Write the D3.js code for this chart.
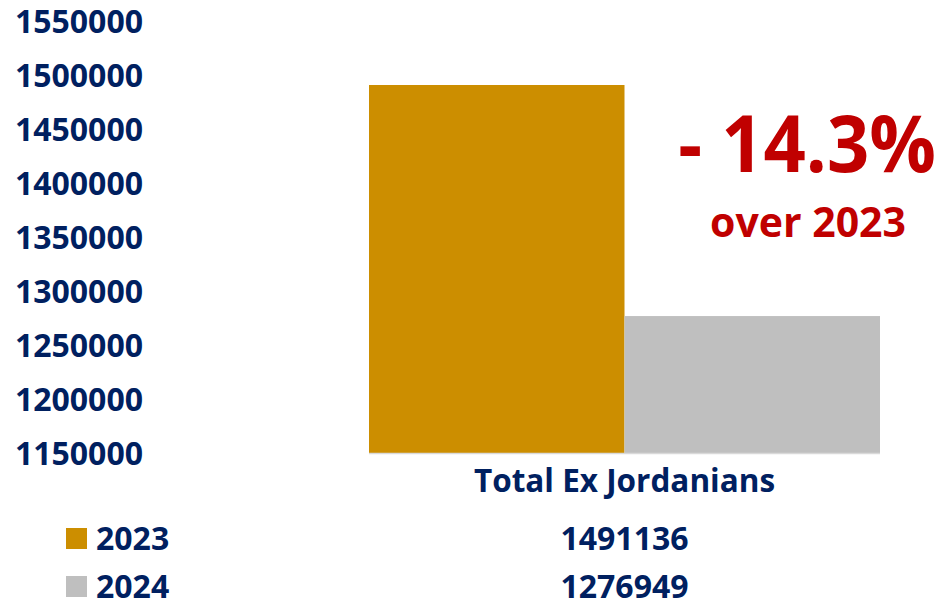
<!DOCTYPE html>
<html>
<head>
<meta charset="utf-8">
<script src="https://cdn.jsdelivr.net/npm/d3@7"></script>
<style>
  body { margin: 0; background: #fff; }
  svg text { font-family: "Open Sans", sans-serif; font-weight: 700; }
</style>
</head>
<body>
<div id="chart"></div>
<script>
// chart data
var categories = ["Total Ex Jordanians"];
var years = ["2023", "2024"];
var values2023 = [1491136];
var values2024 = [1276949];
var yTicks = [1150000, 1200000, 1250000, 1300000, 1350000, 1400000, 1450000, 1500000, 1550000];
var changeLabel = "- 14.3%";
var changeSub = "over 2023";

var width = 942, height = 608;
var navy = "#002060", red = "#C00000";
var colors = { "2023": "#CC8E00", "2024": "#BFBFBF" };

var svg = d3.select("#chart").append("svg")
  .attr("width", width)
  .attr("height", height);

var y = d3.scaleLinear()
  .domain([1150000, 1550000])
  .range([453, 21.5]);

var x0 = d3.scaleBand().domain(categories).range([369, 880]).padding(0);
var x1 = d3.scaleBand().domain(years).range([0, x0.bandwidth()]).padding(0);

var rows = categories.map(function(c, i) {
  return { cat: c, vals: [ { year: "2023", v: values2023[i] }, { year: "2024", v: values2024[i] } ] };
});

// y axis, labels only
var yAxis = svg.append("g")
  .attr("transform", "translate(151,0)")
  .call(d3.axisLeft(y).tickValues(yTicks).tickSize(0).tickPadding(8).tickFormat(d3.format("d")));
yAxis.select(".domain").remove();
yAxis.selectAll("text")
  .attr("dy", "0.357em")
  .style("font-family", "'Open Sans', sans-serif")
  .style("font-weight", 700)
  .style("font-size", "32px")
  .attr("fill", navy);

// bars
var groups = svg.selectAll(".cat")
  .data(rows)
  .enter().append("g")
  .attr("class", "cat")
  .attr("transform", function(d) { return "translate(" + x0(d.cat) + ",0)"; });

groups.selectAll("rect")
  .data(function(d) { return d.vals; })
  .enter().append("rect")
  .attr("x", function(d) { return x1(d.year); })
  .attr("y", function(d) { return y(d.v); })
  .attr("width", x1.bandwidth())
  .attr("height", function(d) { return y.range()[0] - y(d.v); })
  .attr("fill", function(d) { return colors[d.year]; });

// baseline
svg.append("line")
  .attr("x1", x0.range()[0]).attr("x2", x0.range()[1])
  .attr("y1", y(1150000) + 0.5).attr("y2", y(1150000) + 0.5)
  .attr("stroke", "#D9D9D9").attr("stroke-width", 1.5);

// category label
svg.selectAll(".catlabel")
  .data(categories)
  .enter().append("text")
  .attr("x", function(d) { return x0(d) + x0.bandwidth() / 2; })
  .attr("y", 492)
  .attr("text-anchor", "middle")
  .attr("font-size", 31.5)
  .attr("fill", navy)
  .text(function(d) { return d; });

// data table with legend keys
var table = [
  { year: "2023", vals: values2023, base: 550 },
  { year: "2024", vals: values2024, base: 598 }
];

table.forEach(function(r) {
  svg.append("rect")
    .attr("x", 66).attr("y", r.base - 22)
    .attr("width", 21).attr("height", 21)
    .attr("fill", colors[r.year]);
  svg.append("text")
    .attr("x", 96).attr("y", r.base)
    .attr("font-size", 32)
    .attr("fill", navy)
    .text(r.year);
  categories.forEach(function(c, i) {
    svg.append("text")
      .attr("x", x0(c) + x0.bandwidth() / 2).attr("y", r.base)
      .attr("text-anchor", "middle")
      .attr("font-size", 32)
      .attr("fill", navy)
      .text(r.vals[i]);
  });
});

// change annotation (slightly stretched vertically, like the condensed original)
svg.append("text")
  .attr("transform", "translate(807,172) scale(1,1.07)")
  .attr("text-anchor", "middle")
  .attr("font-size", 74)
  .attr("fill", red)
  .text(changeLabel);

svg.append("text")
  .attr("x", 808).attr("y", 237)
  .attr("text-anchor", "middle")
  .attr("font-size", 41)
  .attr("fill", red)
  .text(changeSub);
</script>
</body>
</html>
